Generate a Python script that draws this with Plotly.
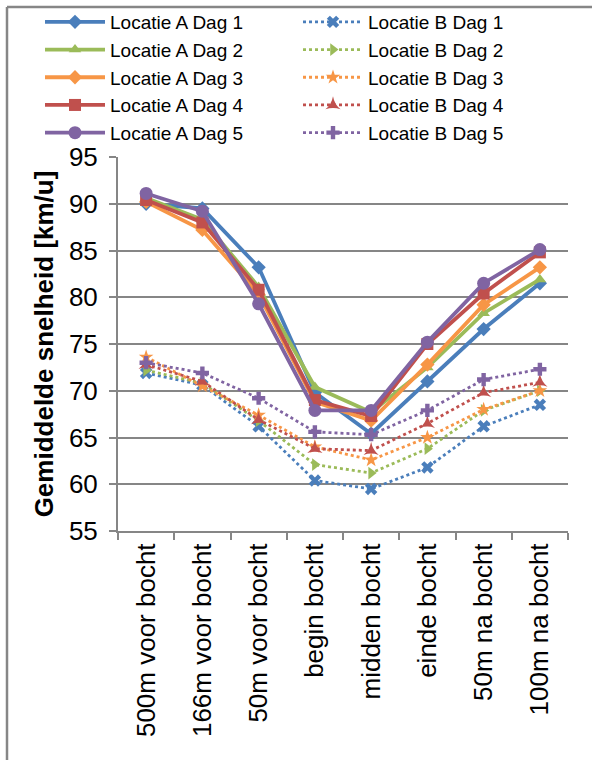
import plotly.graph_objects as go

categories = ["500m voor bocht", "166m voor bocht", "50m voor bocht", "begin bocht",
              "midden bocht", "einde bocht", "50m na bocht", "100m na bocht"]

a_dag1 = [90.0, 89.5, 83.2, 69.8, 65.4, 71.0, 76.6, 81.5]
a_dag2 = [90.6, 88.3, 81.1, 70.4, 67.7, 72.5, 78.3, 81.9]
a_dag3 = [90.2, 87.2, 80.3, 68.8, 66.8, 72.8, 79.2, 83.2]
a_dag4 = [90.4, 88.0, 80.8, 69.0, 67.3, 75.0, 80.4, 84.8]
a_dag5 = [91.1, 89.2, 79.3, 67.9, 67.9, 75.2, 81.5, 85.1]

b_dag1 = [71.9, 70.6, 66.2, 60.4, 59.5, 61.8, 66.2, 68.5]
b_dag2 = [72.2, 70.8, 66.8, 62.1, 61.2, 63.8, 67.9, 70.0]
b_dag3 = [73.6, 70.5, 67.4, 64.0, 62.6, 65.0, 68.0, 70.0]
b_dag4 = [72.8, 71.0, 66.9, 63.8, 63.6, 66.5, 69.8, 70.9]
b_dag5 = [73.0, 71.9, 69.2, 65.6, 65.3, 67.9, 71.2, 72.3]

a_names = ["Locatie A Dag 1", "Locatie A Dag 2", "Locatie A Dag 3", "Locatie A Dag 4", "Locatie A Dag 5"]
b_names = ["Locatie B Dag 1", "Locatie B Dag 2", "Locatie B Dag 3", "Locatie B Dag 4", "Locatie B Dag 5"]

colors = ["#4A7EBB", "#9BBB59", "#F79646", "#C0504D", "#8064A2"]
a_symbols = ["diamond", "triangle-up", "diamond", "square", "circle"]
a_sizes = [11, 11, 11, 12, 13]
b_symbols = ["x", "triangle-right", "star", "star-triangle-up", "cross"]

fig = go.Figure()

for name, vals, col, sym, sz in zip(a_names, [a_dag1, a_dag2, a_dag3, a_dag4, a_dag5], colors, a_symbols, a_sizes):
    fig.add_trace(go.Scatter(x=categories, y=vals, name=name, mode="lines+markers",
                             line=dict(color=col, width=3.8),
                             marker=dict(symbol=sym, size=sz, color=col),
                             legend="legend"))

for name, vals, col, sym in zip(b_names, [b_dag1, b_dag2, b_dag3, b_dag4, b_dag5], colors, b_symbols):
    fig.add_trace(go.Scatter(x=categories, y=vals, name=name, mode="lines+markers",
                             line=dict(color=col, width=2.8, dash="dot"),
                             marker=dict(symbol=sym, size=11, color=col),
                             legend="legend2"))

axis_col = "#868686"
font_family = "Liberation Sans, Arial, sans-serif"

legend_top = (531 - 3) / 374

fig.update_layout(
    width=592, height=760,
    margin=dict(l=118, r=24, t=157, b=229, autoexpand=False),
    paper_bgcolor="white", plot_bgcolor="white",
    font=dict(family=font_family, size=18, color="black"),
    showlegend=True,
    legend=dict(x=(40 - 118) / 450, y=legend_top, xanchor="left", yanchor="top",
                xref="paper", yref="paper",
                font=dict(size=19), bgcolor="rgba(0,0,0,0)", tracegroupgap=0,
                itemwidth=60),
    legend2=dict(x=(298 - 118) / 450, y=legend_top, xanchor="left", yanchor="top",
                 xref="paper", yref="paper",
                 font=dict(size=19), bgcolor="rgba(0,0,0,0)", tracegroupgap=0,
                 itemwidth=60),
    xaxis=dict(type="category", range=[-0.5, 7.5], showline=True, linecolor=axis_col, linewidth=2,
               ticks="outside", ticklen=7, tickcolor=axis_col, tickwidth=2,
               tickson="boundaries", tickangle=-90, showgrid=False, zeroline=False,
               tickfont=dict(size=26), automargin=False),
    yaxis=dict(range=[55, 95], dtick=5, showline=True, linecolor=axis_col, linewidth=2,
               ticks="outside", ticklen=7, tickcolor=axis_col, tickwidth=2,
               showgrid=True, gridcolor=axis_col, gridwidth=2, zeroline=False,
               tickfont=dict(size=26), ticklabelstandoff=6, automargin=False,
               title=dict(text="<b>Gemiddelde snelheid [km/u]</b>", font=dict(size=26), standoff=8)),
    shapes=[
        dict(type="line", xref="paper", yref="paper",
             x0=(7 - 118) / 450, x1=(600 - 118) / 450, y0=(531 - 7) / 374, y1=(531 - 7) / 374,
             line=dict(color=axis_col, width=2.5)),
        dict(type="line", xref="paper", yref="paper",
             x0=(7 - 118) / 450, x1=(7 - 118) / 450, y0=(531 - 7) / 374, y1=(531 - 770) / 374,
             line=dict(color=axis_col, width=2.5)),
    ],
)

fig.write_html("out.html", config={"displayModeBar": False},
               post_script="document.body.style.margin='0';")
